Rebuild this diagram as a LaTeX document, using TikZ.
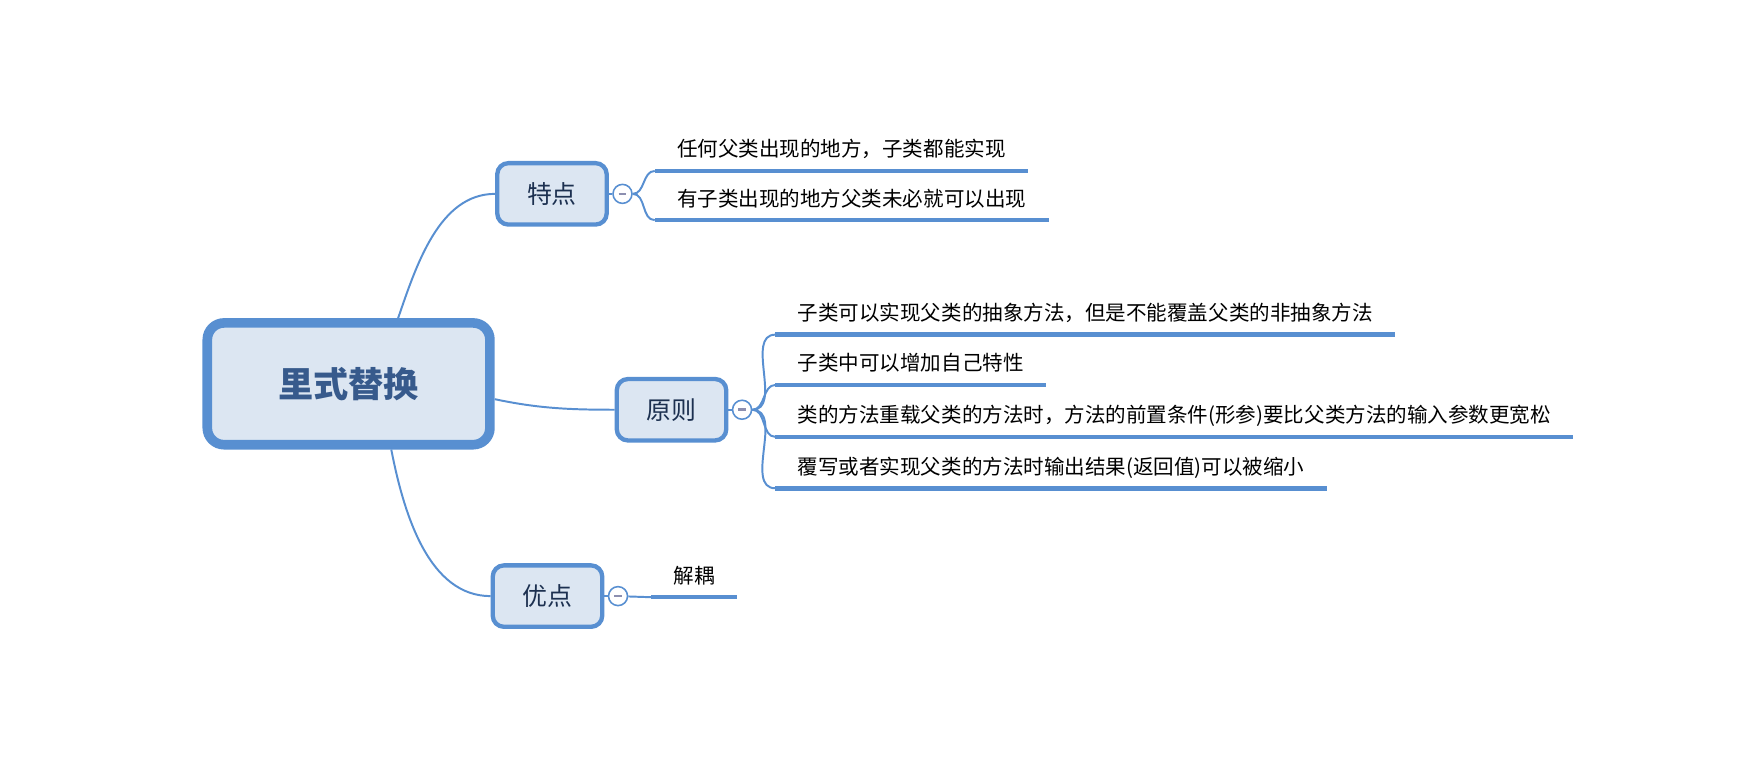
\documentclass[tikz,border=0pt]{standalone}
\usepackage{fontspec}
\newfontfamily\cjk{Noto Sans CJK SC}
\usetikzlibrary{positioning}

\definecolor{mapblue}{RGB}{88,143,209}
\definecolor{mapfill}{RGB}{220,230,242}
\definecolor{roottext}{RGB}{55,90,140}
\definecolor{topictext}{RGB}{28,48,80}
\definecolor{foldgray}{RGB}{140,143,176}

\tikzset{
  root/.style={draw=mapblue, fill=mapfill, line width=4.9pt, rounded corners=0.3cm,
    minimum width=5.06cm, minimum height=2.18cm, text=roottext,
    font=\cjk\bfseries\fontsize{17.9}{20}\selectfont},
  topic/.style={draw=mapblue, fill=mapfill, line width=2.2pt, rounded corners=0.2cm,
    minimum width=1.96cm, minimum height=1.1cm, text=topictext,
    font=\cjk\fontsize{12.7}{15}\selectfont},
  fold/.style={circle, draw=mapblue, fill=white, line width=0.8pt, minimum size=0.34cm,
    inner sep=0pt, path picture={
      \draw[foldgray, line width=1.3pt]
        ([xshift=-0.07cm]path picture bounding box.center) --
        ([xshift=0.07cm]path picture bounding box.center);}},
  leaf/.style={anchor=south west, inner xsep=0.4cm, inner ysep=0pt, outer sep=0pt,
    text depth=0.25cm, font=\cjk\fontsize{10.46}{12}\selectfont},
  conn/.style={draw=mapblue, line width=1pt},
  uline/.style={draw=mapblue, line width=2.3pt},
}

\begin{document}
\begin{tikzpicture}[x=0.02cm, y=0.02cm]
  \useasboundingbox (0,0) rectangle (1568,-700);

  \node[root] (root) at (312,-343.5) {里式替换};

  \node[topic] (tedian) at (494,-173.5) {特点};
  \node[topic] (yuanze) at (601,-366.7) {原则};
  \node[topic] (youdian) at (490,-533.5) {优点};

  \node[fold, right = 0.06cm of tedian] (f1) {};
  \node[fold, right = 0.06cm of yuanze] (f2) {};
  \node[fold, right = 0.06cm of youdian] (f3) {};

  \draw[conn] (root.53) .. controls +(71:50) and +(180:50) .. (tedian.west);
  \draw[conn] (root.-6) .. controls +(-12:40) and +(180:40) .. (yuanze.west);
  \draw[conn] (root.-57) .. controls +(-79:60) and +(180:55) .. (youdian.west);

  \draw[conn] (tedian) -- (f1);
  \draw[conn] (yuanze) -- (f2);
  \draw[conn] (youdian) -- (f3);

  \node[leaf] (p1) at (586,-153) {任何父类出现的地方，子类都能实现};
  \node[leaf] (p2) at (586,-197) {有子类出现的地方父类未必就可以出现};

  \node[leaf] (p3) at (694,-299.5) {子类可以实现父类的抽象方法，但是不能覆盖父类的非抽象方法};
  \node[leaf] (p4) at (694,-344.5) {子类中可以增加自己特性};
  \node[leaf] (p5) at (694,-391) {类的方法重载父类的方法时，方法的前置条件(形参)要比父类方法的输入参数更宽松};
  \node[leaf] (p6) at (694,-437) {覆写或者实现父类的方法时输出结果(返回值)可以被缩小};

  \node[leaf] (p7) at (583,-534.5) {解耦};

  \foreach \p in {p1,p2,p3,p4,p5,p6,p7}
    \draw[uline] (\p.south west) -- (\p.south east);

  \draw[conn] (f1) to[out=0, in=180] (p1.south west);
  \draw[conn] (f1) to[out=0, in=180] (p2.south west);

  \draw[conn] (f2) to[out=0, in=180] (p3.south west);
  \draw[conn] (f2) to[out=0, in=180] (p4.south west);
  \draw[conn] (f2) to[out=0, in=180] (p5.south west);
  \draw[conn] (f2) to[out=0, in=180] (p6.south west);

  \draw[conn] (f3) -- (p7.south west);
\end{tikzpicture}
\end{document}
